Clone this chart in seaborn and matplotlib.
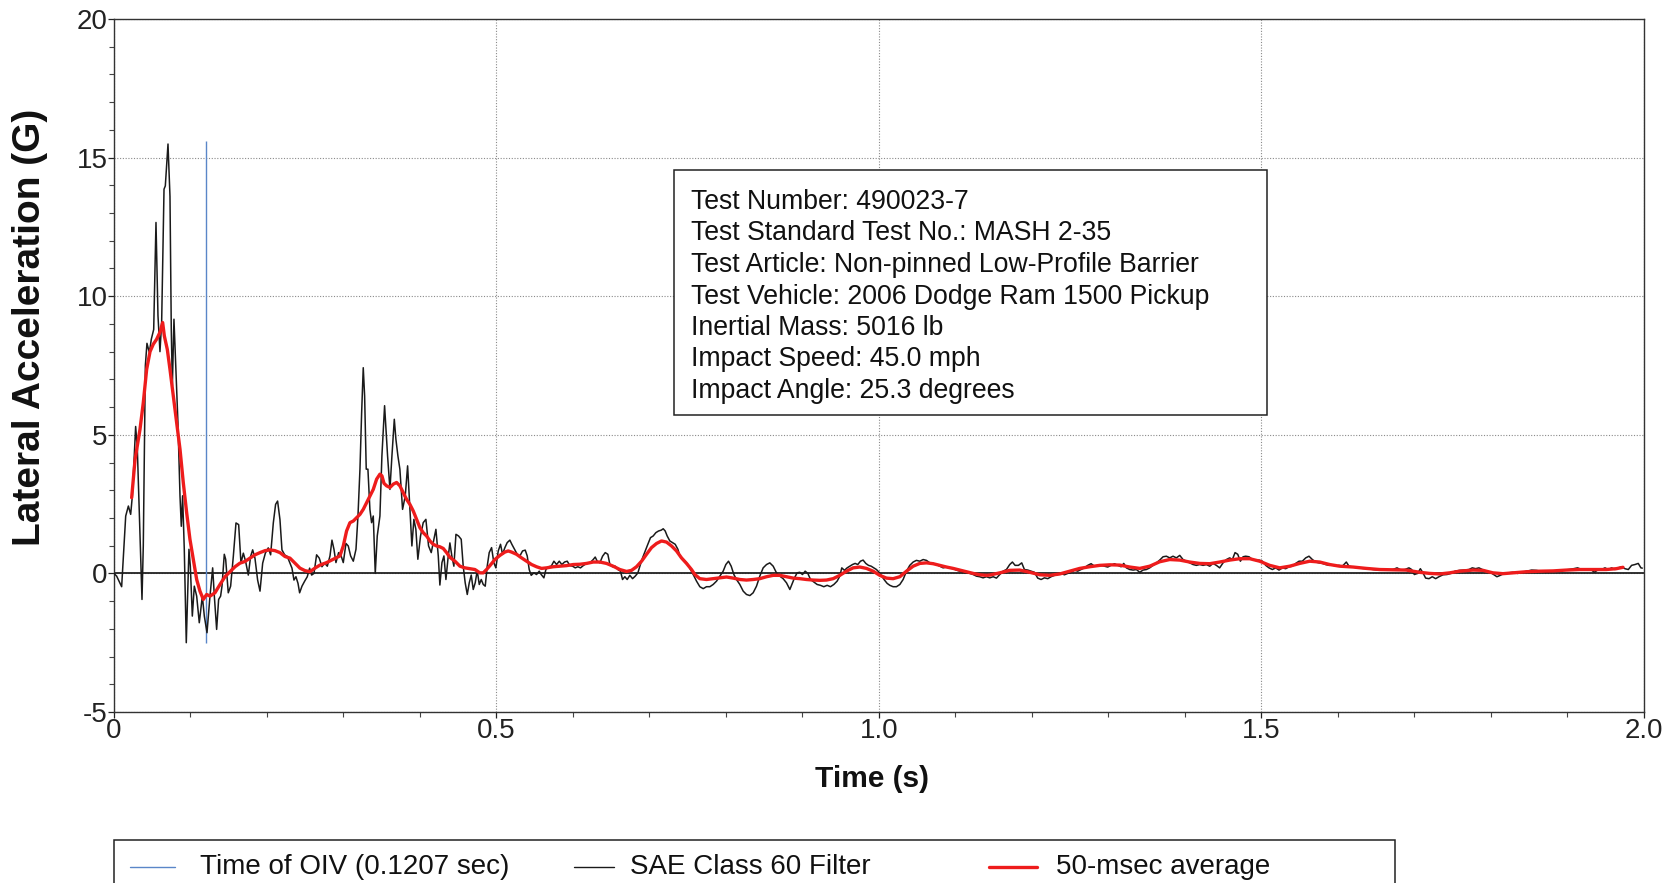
import matplotlib
matplotlib.use("Agg")
import matplotlib.pyplot as plt
from matplotlib.ticker import MultipleLocator
from matplotlib.patches import Rectangle
from matplotlib.lines import Line2D
import seaborn as sns

# ---------------- data ----------------
sae_time = [
    0.0000, 0.0035, 0.0100, 0.0131, 0.0153, 0.0188, 0.0218, 0.0240, 0.0283, 0.0305,
    0.0331, 0.0366, 0.0383, 0.0410, 0.0431, 0.0462, 0.0488, 0.0519, 0.0549, 0.0575,
    0.0601, 0.0623, 0.0654, 0.0671, 0.0706, 0.0732, 0.0749, 0.0763, 0.0784, 0.0806,
    0.0836, 0.0863, 0.0880, 0.0897, 0.0919, 0.0945, 0.0980, 0.0998, 0.1024, 0.1050,
    0.1081, 0.1115, 0.1155, 0.1181, 0.1216, 0.1255,
    0.1290, 0.1312, 0.1342, 0.1368, 0.1394, 0.1412, 0.1442, 0.1460, 0.1494, 0.1525,
    0.1560, 0.1595, 0.1630, 0.1660, 0.1691, 0.1721, 0.1756, 0.1786, 0.1813, 0.1843,
    0.1878, 0.1909, 0.1944, 0.1979, 0.2017, 0.2048, 0.2083, 0.2113, 0.2139, 0.2170,
    0.2196, 0.2231, 0.2266, 0.2301, 0.2327, 0.2353, 0.2379, 0.2406, 0.2427, 0.2458,
    0.2493, 0.2527, 0.2558, 0.2584, 0.2615, 0.2649, 0.2684, 0.2719, 0.2754,
    0.2789, 0.2824, 0.2850, 0.2876, 0.2902, 0.2937, 0.2963, 0.2998, 0.3033, 0.3063,
    0.3094, 0.3129, 0.3164, 0.3190, 0.3216, 0.3238, 0.3259, 0.3277, 0.3298, 0.3320,
    0.3346, 0.3368, 0.3390, 0.3416, 0.3442, 0.3477, 0.3503, 0.3538, 0.3556, 0.3577,
    0.3608, 0.3634, 0.3665, 0.3686, 0.3712, 0.3738, 0.3773, 0.3808, 0.3839, 0.3869,
    0.3895, 0.3921, 0.3947, 0.3973, 0.4008, 0.4043, 0.4078, 0.4113, 0.4148, 0.4174,
    0.4209, 0.4240, 0.4261, 0.4288, 0.4314,
    0.4340, 0.4366, 0.4392, 0.4418, 0.4444, 0.4471, 0.4505, 0.4540, 0.4566, 0.4592,
    0.4619, 0.4645, 0.4671, 0.4697, 0.4723, 0.4749, 0.4776, 0.4802, 0.4828, 0.4854,
    0.4880, 0.4906, 0.4937, 0.4967, 0.4993, 0.5024, 0.5054, 0.5080, 0.5111, 0.5141,
    0.5176, 0.5202, 0.5237, 0.5272, 0.5307, 0.5342, 0.5377, 0.5403, 0.5429, 0.5455,
    0.5490, 0.5525, 0.5560, 0.5586, 0.5621, 0.5647, 0.5682, 0.5717, 0.5752, 0.5787,
    0.5822, 0.5856, 0.5891, 0.5926, 0.5961, 0.5996, 0.6031, 0.6065, 0.6100, 0.6135,
    0.6179, 0.6222, 0.6266, 0.6292, 0.6318, 0.6353, 0.6388, 0.6423, 0.6457, 0.6484,
    0.6519, 0.6553, 0.6588, 0.6623, 0.6649, 0.6680, 0.6710, 0.6745, 0.6780, 0.6815,
    0.6850, 0.6876, 0.6911, 0.6946, 0.6980, 0.7015, 0.7050, 0.7085, 0.7120, 0.7155,
    0.7181, 0.7207, 0.7233, 0.7268, 0.7303, 0.7338, 0.7373, 0.7399, 0.7434, 0.7468,
    0.7503, 0.7538,
    0.7573, 0.7617, 0.7660, 0.7704, 0.7747, 0.7791, 0.7834, 0.7878, 0.7922, 0.7965,
    0.8000, 0.8035, 0.8070, 0.8105, 0.8139, 0.8183, 0.8227, 0.8270, 0.8314, 0.8357,
    0.8401, 0.8444, 0.8488, 0.8532, 0.8575, 0.8619, 0.8662, 0.8706, 0.8749, 0.8793,
    0.8837, 0.8863, 0.8898, 0.8932, 0.8967, 0.9002, 0.9037, 0.9072, 0.9107, 0.9150,
    0.9194, 0.9237, 0.9281, 0.9325, 0.9368, 0.9412, 0.9455, 0.9490, 0.9516, 0.9551,
    0.9586, 0.9621, 0.9656, 0.9691, 0.9725, 0.9760, 0.9795, 0.9830, 0.9865, 0.9900,
    0.9935, 0.9969, 1.0004, 1.0039, 1.0074, 1.0109, 1.0144, 1.0187, 1.0231, 1.0275,
    1.0318, 1.0362, 1.0405, 1.0449, 1.0492, 1.0536, 1.0580, 1.0623, 1.0667, 1.0710,
    1.0754, 1.0797, 1.0841, 1.0885, 1.0928, 1.0972, 1.1015, 1.1059, 1.1102, 1.1146,
    1.1190, 1.1233, 1.1277, 1.1320, 1.1364, 1.1407, 1.1451,
    1.1495, 1.1538, 1.1582, 1.1625, 1.1669, 1.1712, 1.1747, 1.1782, 1.1826, 1.1869,
    1.1904, 1.1948, 1.1991, 1.2035, 1.2078, 1.2122, 1.2166, 1.2209, 1.2253, 1.2296,
    1.2340, 1.2383, 1.2427, 1.2471, 1.2514, 1.2558, 1.2601, 1.2645, 1.2688, 1.2732,
    1.2776, 1.2819, 1.2863, 1.2906, 1.2950, 1.2993, 1.3037, 1.3081, 1.3124, 1.3168,
    1.3203, 1.3237, 1.3281, 1.3325, 1.3368, 1.3412, 1.3455, 1.3499, 1.3542, 1.3586,
    1.3630, 1.3673, 1.3717, 1.3760, 1.3804, 1.3847, 1.3891, 1.3935, 1.3978, 1.4022,
    1.4065, 1.4109, 1.4152, 1.4196, 1.4240, 1.4283, 1.4327, 1.4370, 1.4414, 1.4457,
    1.4501, 1.4545, 1.4588, 1.4623, 1.4658, 1.4693, 1.4728, 1.4763, 1.4797, 1.4841,
    1.4885, 1.4928, 1.4972, 1.5015, 1.5059, 1.5102, 1.5146, 1.5190, 1.5233, 1.5277,
    1.5320, 1.5364, 1.5407, 1.5451, 1.5495, 1.5538, 1.5582, 1.5625, 1.5669, 1.5712,
    1.5756, 1.5800, 1.5843, 1.5887, 1.5930, 1.5974, 1.6017, 1.6061,
    1.6113, 1.6148, 1.6200, 1.6266, 1.6331, 1.6397, 1.6462, 1.6527, 1.6593, 1.6658,
    1.6723, 1.6776, 1.6828, 1.6880, 1.6932, 1.6967, 1.7002, 1.7046, 1.7081, 1.7115,
    1.7150, 1.7194, 1.7237, 1.7281, 1.7324, 1.7377, 1.7429, 1.7481, 1.7534, 1.7595,
    1.7656, 1.7717, 1.7760, 1.7804, 1.7847, 1.7891, 1.7943, 1.7995, 1.8039, 1.8082,
    1.8126, 1.8178, 1.8230, 1.8291, 1.8352, 1.8413, 1.8475, 1.8536, 1.8597, 1.8658,
    1.8719, 1.8780, 1.8841, 1.8902, 1.8963, 1.9024, 1.9085, 1.9137, 1.9190, 1.9251,
    1.9312, 1.9355, 1.9399, 1.9451, 1.9495, 1.9538, 1.9582, 1.9625, 1.9669, 1.9713,
    1.9756, 1.9800, 1.9843, 1.9887, 1.9930, 1.9965, 1.9983,
]
sae_accel = [
    0.00, -0.10, -0.48, 1.00, 2.07, 2.43, 2.13, 2.80, 5.30, 4.50,
    2.20, -0.94, 1.00, 7.50, 8.30, 7.97, 8.45, 8.80, 12.66, 9.30,
    8.00, 9.05, 13.86, 13.98, 15.49, 13.60, 8.80, 6.76, 9.17, 7.60,
    5.44, 2.79, 1.70, 2.80, 0.87, -2.50, 0.87, 0.26, -1.54, -0.46,
    -0.82, -1.78, -0.82, -1.54, -2.14, -0.82,
    0.20, -0.82, -2.02, -0.94, -0.82, -0.46, 0.69, 0.51, -0.70, -0.46,
    0.61, 1.82, 1.76, 0.37, 0.73, 0.43, -0.06, 0.61, 0.85, 0.55,
    -0.24, -0.64, 0.37, 0.73, 0.92, 0.67, 1.82, 2.49, 2.61, 1.94,
    0.85, 0.67, 0.61, 0.37, 0.19, -0.24, -0.12, -0.36, -0.70, -0.46,
    -0.28, -0.12, 0.19, -0.06, 0.00, 0.67, 0.55, 0.24, 0.37,
    0.26, 0.63, 1.20, 0.87, 0.39, 0.75, 0.69, 0.39, 1.08, 0.99,
    0.63, 0.44, 0.87, 2.07, 3.76, 5.80, 7.42, 6.40, 3.76, 3.76,
    2.31, 1.83, 2.07, 0.00, 1.35, 2.07, 4.24, 6.05, 5.20, 4.24,
    3.03, 4.24, 5.56, 4.84, 4.24, 3.76, 2.31, 2.79, 3.88, 2.31,
    0.99, 1.95, 1.59, 0.51, 1.35, 1.83, 1.95, 0.99, 0.75, 1.11,
    1.59, 0.63, -0.42, 0.39, 0.63,
    -0.22, 0.51, 1.10, 0.62, 0.26, 1.41, 1.35, 1.23, 0.26, -0.34,
    -0.76, -0.34, -0.06, -0.58, -0.34, 0.10, -0.40, -0.22, -0.40, -0.46,
    0.26, 0.75, 0.93, 0.38, 0.20, 0.81, 1.05, 0.69, 0.93, 1.11,
    1.20, 1.05, 0.87, 0.69, 0.63, 0.81, 0.84, 0.63, 0.14, -0.07,
    0.02, -0.04, 0.08, -0.04, -0.16, 0.14, 0.24, 0.26, 0.44, 0.32,
    0.44, 0.32, 0.41, 0.44, 0.28, 0.26, 0.20, 0.24, 0.20, 0.28,
    0.36, 0.38, 0.50, 0.59, 0.44, 0.38, 0.62, 0.75, 0.69, 0.32,
    0.24, 0.26, 0.14, 0.08, -0.22, -0.12, -0.22, -0.07, -0.19, -0.10,
    0.02, 0.26, 0.56, 0.81, 1.05, 1.29, 1.35, 1.47, 1.53, 1.56,
    1.61, 1.53, 1.35, 1.17, 1.11, 1.05, 0.87, 0.63, 0.50, 0.44,
    0.32, 0.14,
    -0.04, -0.28, -0.48, -0.55, -0.48, -0.48, -0.40, -0.28, -0.10, 0.08,
    0.32, 0.44, 0.26, -0.04, -0.22, -0.40, -0.64, -0.76, -0.80, -0.70,
    -0.46, -0.10, 0.20, 0.32, 0.38, 0.26, 0.02, -0.10, -0.19, -0.34,
    -0.58, -0.40, -0.16, 0.02, 0.04, -0.04, 0.08, 0.00, -0.22, -0.31,
    -0.40, -0.43, -0.48, -0.43, -0.48, -0.40, -0.28, -0.10, 0.20, 0.11,
    0.20, 0.26, 0.32, 0.36, 0.32, 0.44, 0.48, 0.36, 0.29, 0.26,
    0.20, 0.14, 0.04, -0.10, -0.24, -0.36, -0.43, -0.48, -0.48, -0.40,
    -0.22, 0.08, 0.29, 0.41, 0.47, 0.44, 0.50, 0.47, 0.38, 0.36,
    0.32, 0.26, 0.20, 0.23, 0.20, 0.17, 0.12, 0.08, 0.04, 0.02,
    0.00, -0.04, -0.10, -0.12, -0.16, -0.12, -0.16,
    -0.12, -0.17, -0.04, 0.08, 0.14, 0.32, 0.41, 0.29, 0.29, 0.38,
    0.14, 0.12, 0.08, 0.04, -0.17, -0.22, -0.16, -0.19, -0.12, -0.07,
    -0.04, 0.00, -0.05, 0.00, 0.04, 0.12, 0.08, 0.14, 0.20, 0.29,
    0.35, 0.26, 0.29, 0.29, 0.26, 0.23, 0.29, 0.35, 0.29, 0.24,
    0.36, 0.20, 0.14, 0.12, 0.14, 0.04, 0.12, 0.14, 0.20, 0.29,
    0.38, 0.48, 0.60, 0.62, 0.56, 0.62, 0.56, 0.65, 0.50, 0.44,
    0.38, 0.32, 0.29, 0.32, 0.29, 0.32, 0.26, 0.36, 0.29, 0.20,
    0.38, 0.50, 0.56, 0.50, 0.75, 0.69, 0.44, 0.60, 0.62, 0.60,
    0.50, 0.47, 0.48, 0.44, 0.29, 0.20, 0.14, 0.20, 0.12, 0.20,
    0.17, 0.24, 0.26, 0.36, 0.44, 0.44, 0.56, 0.62, 0.50, 0.41,
    0.38, 0.36, 0.32, 0.29, 0.31, 0.26, 0.29, 0.26,
    0.41, 0.26, 0.23, 0.20, 0.18, 0.17, 0.14, 0.12, 0.14, 0.12,
    0.14, 0.20, 0.12, 0.14, 0.20, 0.14, -0.04, 0.00, 0.17, 0.02,
    -0.17, -0.19, -0.12, -0.19, -0.12, -0.05, -0.04, 0.00, 0.08, 0.11,
    0.12, 0.14, 0.20, 0.17, 0.20, 0.14, 0.08, 0.04, -0.04, -0.12,
    -0.07, 0.00, 0.02, 0.04, 0.00, 0.04, 0.08, 0.12, 0.11, 0.08,
    0.04, 0.06, 0.08, 0.11, 0.12, 0.14, 0.17, 0.20, 0.14, 0.12,
    0.14, 0.04, 0.12, 0.14, 0.20, 0.14, 0.20, 0.14, 0.20, 0.24,
    0.17, 0.14, 0.29, 0.32, 0.36, 0.20, 0.19,
]

avg_time = [
    0.0231, 0.0275, 0.0340, 0.0383, 0.0427, 0.0471, 0.0514, 0.0558, 0.0601, 0.0636,
    0.0658, 0.0697, 0.0732, 0.0775, 0.0819, 0.0863, 0.0906, 0.0950, 0.0993, 0.1037,
    0.1081, 0.1124, 0.1168, 0.1211, 0.1255,
    0.1320, 0.1386, 0.1451, 0.1516, 0.1582, 0.1647, 0.1712, 0.1778, 0.1843, 0.1909,
    0.1974, 0.2039, 0.2105, 0.2170, 0.2235, 0.2301, 0.2366, 0.2431, 0.2497, 0.2562,
    0.2627, 0.2693,
    0.2780, 0.2867, 0.2954, 0.2998, 0.3041, 0.3085, 0.3129, 0.3172, 0.3216, 0.3259,
    0.3303, 0.3346, 0.3390, 0.3434, 0.3477, 0.3503, 0.3530, 0.3564, 0.3608, 0.3652,
    0.3695, 0.3738, 0.3782, 0.3826, 0.3869, 0.3913, 0.3956, 0.4000, 0.4043, 0.4087,
    0.4131, 0.4174, 0.4218, 0.4261, 0.4305, 0.4349,
    0.4392, 0.4458, 0.4523, 0.4588, 0.4654, 0.4719, 0.4784, 0.4828, 0.4871, 0.4915,
    0.4980, 0.5046, 0.5111, 0.5154, 0.5198, 0.5263, 0.5329, 0.5394, 0.5460, 0.5525,
    0.5590, 0.5656, 0.5743, 0.5830, 0.5917, 0.6004, 0.6092, 0.6179, 0.6266, 0.6353,
    0.6440, 0.6527, 0.6614, 0.6702, 0.6767, 0.6832, 0.6898, 0.6963, 0.7028, 0.7094,
    0.7159, 0.7224, 0.7290, 0.7355, 0.7420, 0.7486, 0.7551,
    0.7595, 0.7660, 0.7747, 0.7834, 0.7922, 0.8009, 0.8096, 0.8183, 0.8270, 0.8357,
    0.8444, 0.8532, 0.8619, 0.8706, 0.8793, 0.8880, 0.8967, 0.9054, 0.9141, 0.9229,
    0.9316, 0.9403, 0.9490, 0.9577, 0.9664, 0.9752, 0.9839, 0.9926, 1.0013, 1.0100,
    1.0187, 1.0275, 1.0362, 1.0449, 1.0536, 1.0623, 1.0710, 1.0797, 1.0885, 1.0972,
    1.1059, 1.1146, 1.1233, 1.1320, 1.1407,
    1.1451, 1.1582, 1.1712, 1.1843, 1.1974, 1.2105, 1.2235, 1.2366, 1.2497, 1.2627,
    1.2758, 1.2889, 1.3020, 1.3150, 1.3281, 1.3412, 1.3542, 1.3673, 1.3804, 1.3935,
    1.4065, 1.4196, 1.4327, 1.4457, 1.4588, 1.4719, 1.4850, 1.4980, 1.5111, 1.5242,
    1.5373, 1.5503, 1.5634, 1.5765, 1.5896,
    1.6026, 1.6200, 1.6375, 1.6549, 1.6723, 1.6897, 1.7072, 1.7202, 1.7333, 1.7464,
    1.7595, 1.7769, 1.7900, 1.8030, 1.8161, 1.8291, 1.8466, 1.8640, 1.8815, 1.8989,
    1.9163, 1.9338, 1.9512, 1.9643, 1.9730,
]
avg_accel = [
    2.73, 4.10, 5.20, 6.16, 7.36, 8.00, 8.27, 8.45, 8.70, 9.05,
    8.57, 8.08, 7.36, 6.40, 5.44, 4.48, 3.27, 2.19, 1.23, 0.51,
    -0.22, -0.64, -0.94, -0.76, -0.82,
    -0.70, -0.40, -0.12, 0.06, 0.24, 0.37, 0.43, 0.55, 0.67, 0.75,
    0.82, 0.85, 0.82, 0.75, 0.61, 0.55, 0.37, 0.19, 0.10, 0.06,
    0.19, 0.30,
    0.39, 0.51, 0.63, 0.99, 1.53, 1.83, 1.89, 2.01, 2.13, 2.31,
    2.55, 2.79, 3.03, 3.40, 3.58, 3.52, 3.25, 3.16, 3.10, 3.22,
    3.28, 3.16, 2.91, 2.67, 2.49, 2.25, 1.95, 1.65, 1.47, 1.35,
    1.17, 1.05, 0.99, 0.96, 0.90, 0.75,
    0.58, 0.44, 0.26, 0.20, 0.17, 0.14, 0.02, 0.02, 0.14, 0.28,
    0.50, 0.65, 0.77, 0.81, 0.77, 0.69, 0.56, 0.44, 0.32, 0.24,
    0.18, 0.20, 0.24, 0.26, 0.28, 0.32, 0.33, 0.36, 0.41, 0.41,
    0.36, 0.26, 0.14, 0.07, 0.11, 0.24, 0.44, 0.69, 0.93, 1.08,
    1.17, 1.13, 0.99, 0.81, 0.56, 0.36, 0.14,
    -0.04, -0.19, -0.22, -0.19, -0.16, -0.13, -0.17, -0.22, -0.24, -0.22,
    -0.19, -0.12, -0.07, -0.07, -0.12, -0.17, -0.19, -0.22, -0.24, -0.25,
    -0.24, -0.19, -0.07, 0.08, 0.20, 0.23, 0.18, 0.08, -0.07, -0.17,
    -0.19, -0.12, 0.08, 0.26, 0.36, 0.38, 0.35, 0.29, 0.23, 0.18,
    0.12, 0.06, 0.00, -0.05, -0.07,
    -0.06, 0.02, 0.11, 0.12, 0.04, -0.05, -0.07, -0.02, 0.08, 0.18,
    0.24, 0.29, 0.31, 0.30, 0.23, 0.18, 0.26, 0.42, 0.50, 0.48,
    0.41, 0.36, 0.35, 0.41, 0.48, 0.53, 0.53, 0.44, 0.29, 0.20,
    0.26, 0.36, 0.44, 0.41, 0.32,
    0.26, 0.23, 0.18, 0.14, 0.13, 0.12, 0.04, 0.00, -0.02, 0.02,
    0.08, 0.12, 0.11, 0.02, -0.01, 0.02, 0.06, 0.08, 0.09, 0.12,
    0.14, 0.14, 0.14, 0.17, 0.22,
]

oiv_time = 0.1207
oiv_span = [-2.5, 15.6]

x_ticks = [0, 0.5, 1.0, 1.5, 2.0]
x_tick_labels = ["0", "0.5", "1.0", "1.5", "2.0"]
y_ticks = [-5, 0, 5, 10, 15, 20]
y_tick_labels = ["-5", "0", "5", "10", "15", "20"]

info_lines = [
    "Test Number: 490023-7",
    "Test Standard Test No.: MASH 2-35",
    "Test Article: Non-pinned Low-Profile Barrier",
    "Test Vehicle: 2006 Dodge Ram 1500 Pickup",
    "Inertial Mass: 5016 lb",
    "Impact Speed: 45.0 mph",
    "Impact Angle: 25.3 degrees",
]
legend_labels = ["Time of OIV (0.1207 sec)", "SAE Class 60 Filter", "50-msec average"]

# ---------------- style ----------------
sns.set_theme(style="white")
plt.rcParams["font.family"] = ["Liberation Sans", "DejaVu Sans"]
plt.rcParams["axes.unicode_minus"] = False

W, H = 1667, 883
fig = plt.figure(figsize=(W / 100, H / 100), dpi=100)
fig.patch.set_facecolor("white")

def fx(px):
    return px / W

def fy(py):
    return 1 - py / H

ax_l, ax_r, ax_t, ax_b = 114, 1643.6, 19, 712
ax = fig.add_axes([fx(ax_l), fy(ax_b), fx(ax_r - ax_l), (ax_b - ax_t) / H])
ax.set_facecolor("white")

BLUE = "#5a86c8"
BLACK = "#1a1a1a"
RED = "#ee1c1c"

# grid
ax.grid(True, which="major", linestyle=(0, (1, 1.5)), color="#8a8a8a", linewidth=0.8)
ax.set_axisbelow(True)

# zero line
ax.axhline(0, color="#222222", linewidth=1.3, zorder=2)

# OIV line
ax.vlines(oiv_time, oiv_span[0], oiv_span[1], color=BLUE, linewidth=1.0, zorder=3)

sns.lineplot(x=sae_time, y=sae_accel, ax=ax, color=BLACK, linewidth=1.1,
             estimator=None, sort=False, zorder=4)
sns.lineplot(x=avg_time, y=avg_accel, ax=ax, color=RED, linewidth=2.4,
             estimator=None, sort=False, zorder=5)

ax.set_xlim(0, 2.0)
ax.set_ylim(-5, 20)
ax.set_xticks(x_ticks)
ax.set_xticklabels(x_tick_labels)
ax.set_yticks(y_ticks)
ax.set_yticklabels(y_tick_labels)
ax.xaxis.set_minor_locator(MultipleLocator(0.1))
ax.yaxis.set_minor_locator(MultipleLocator(1))

ax.tick_params(axis="both", which="major", labelsize=20, colors="#222222",
               direction="out", length=4, width=0.9, pad=0.5)
ax.tick_params(axis="both", which="minor", direction="out", length=3.5,
               width=0.8, colors="#444444")
ax.tick_params(left=True, bottom=True, which="both")

for s in ax.spines.values():
    s.set_color("#333333")
    s.set_linewidth(1.0)
    s.set_visible(True)

ax.set_xlabel("Time (s)", fontsize=21.5, fontweight="bold", color="#111111", va="center")
ax.xaxis.set_label_coords((872 - ax_l) / (ax_r - ax_l), -(779 - ax_b) / (ax_b - ax_t))
ax.set_ylabel("Lateral Acceleration (G)", fontsize=28, fontweight="bold",
              color="#111111", va="center")
ax.yaxis.set_label_coords((30 - ax_l) / (ax_r - ax_l), (ax_b - 327) / (ax_b - ax_t))

# info box
bx0, bx1, by0, by1 = 674, 1267, 170, 415
fig.add_artist(Rectangle((fx(bx0), fy(by1)), fx(bx1 - bx0), (by1 - by0) / H,
                         transform=fig.transFigure, facecolor="white",
                         edgecolor="#222222", linewidth=1.1, zorder=10))
for i, line in enumerate(info_lines):
    fig.text(fx(691), fy(202 + 31.5 * i), line, fontsize=19.2, color="#111111",
             ha="left", va="center", zorder=11)

# legend (cut off at bottom like the reference)
lx0, lx1, ly0 = 114, 1395, 840
fig.add_artist(Rectangle((fx(lx0), fy(H + 30)), fx(lx1 - lx0), (H + 30 - ly0) / H,
                         transform=fig.transFigure, facecolor="white",
                         edgecolor="#222222", linewidth=1.1, zorder=10))
ly = 867
entries = [(130, 175, 200, BLUE, 1.0), (574, 614, 630, BLACK, 1.0), (989, 1037, 1056, RED, 2.4)]
for (h0, h1, tx, col, lw), lab in zip(entries, legend_labels):
    fig.add_artist(Line2D([fx(h0), fx(h1)], [fy(ly), fy(ly)], transform=fig.transFigure,
                          color=col, linewidth=lw, zorder=11))
    fig.text(fx(tx), fy(ly), lab, fontsize=20, color="#111111", ha="left",
             va="center", zorder=11)

fig.savefig("out.png", dpi=100, facecolor="white")
